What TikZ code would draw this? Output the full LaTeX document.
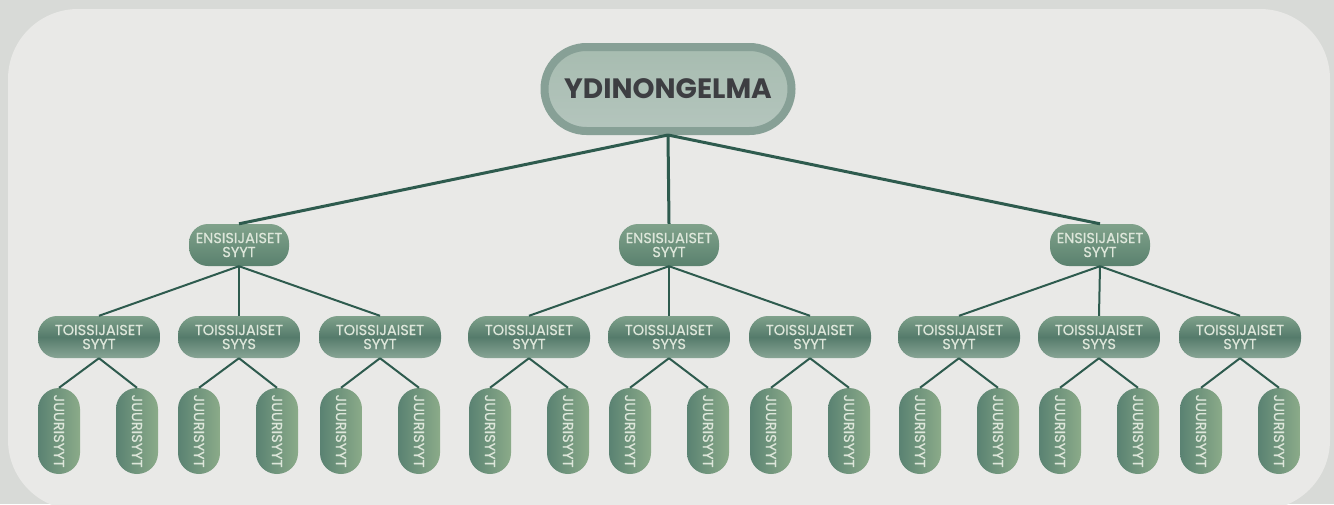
\documentclass[tikz,border=0pt]{standalone}
\usepackage{fontspec}
\setmainfont{Poppins}
\newfontfamily\medfont[FakeBold=0.6]{Poppins}
\definecolor{outerbg}{HTML}{D8DAD7}
\definecolor{panel}{HTML}{E9E9E7}
\definecolor{edgec}{HTML}{2E5B4E}
\definecolor{rootborder}{HTML}{87A096}
\definecolor{roottop}{HTML}{A7BCB0}
\definecolor{rootbot}{HTML}{B4C5BD}
\definecolor{roottext}{HTML}{3D3E42}
\definecolor{ltext}{HTML}{DDE6DA}
\definecolor{ptop}{HTML}{80A28B}
\definecolor{pbot}{HTML}{5A816E}
\definecolor{stop}{HTML}{7FA18B}
\definecolor{smid}{HTML}{557B6B}
\definecolor{sbot}{HTML}{88A595}
\definecolor{leafl}{HTML}{5A8272}
\definecolor{leafr}{HTML}{8BAB89}
\tikzset{
  rootbox/.style={draw=rootborder, line width=8pt, top color=roottop, bottom color=rootbot,
    rounded corners=42pt, minimum width=247pt, minimum height=84pt, inner sep=0pt,
    text=roottext, font=\fontsize{28}{30}\selectfont\bfseries},
  primbox/.style={top color=ptop, bottom color=pbot, rounded corners=19pt,
    minimum width=100pt, minimum height=42pt, inner sep=0pt, align=center,
    text=ltext, font=\medfont\fontsize{14.5}{14}\selectfont},
  secbox/.style={top color=stop, bottom color=sbot, middle color=smid, rounded corners=19pt,
    minimum width=122pt, minimum height=42pt, inner sep=0pt, align=center,
    text=ltext, font=\medfont\fontsize{14.5}{14}\selectfont},
  leafbox/.style={left color=leafl, right color=leafr, rounded corners=21pt,
    minimum width=42pt, minimum height=86pt, inner sep=0pt},
  leaftext/.style={rotate=-90, text=ltext, font=\medfont\fontsize{14.5}{14}\selectfont, inner sep=0pt},
  mainedge/.style={draw=edgec, line width=3pt},
  subedge/.style={draw=edgec, line width=2pt},
}
\begin{document}
\begin{tikzpicture}[x=1pt,y=-1pt]
\useasboundingbox (0,0) rectangle (1334,504);
\clip (0,0) rectangle (1334,504);
\fill[outerbg] (0,0) rectangle (1334,504);
\fill[panel, rounded corners=70pt] (8,9) rectangle (1330,510);

\node[rootbox] (root) at (668,89) {YDINONGELMA};

\foreach \i/\cx in {1/239, 2/669, 3/1100} {
  \node[primbox] (p\i) at (\cx,245) {ENSISIJAISET\\SYYT};
}
\foreach \i/\cx/\lab in {1/99/SYYT, 2/239/SYYS, 3/380/SYYT, 4/529/SYYT, 5/669/SYYS, 6/810/SYYT, 7/959/SYYT, 8/1099/SYYS, 9/1240/SYYT} {
  \node[secbox] (s\i) at (\cx,337) {TOISSIJAISET\\\lab};
}
\foreach \i/\cx in {1/59, 2/137, 3/199, 4/277, 5/341, 6/419, 7/490, 8/568, 9/630, 10/708, 11/771, 12/849, 13/920, 14/998, 15/1060, 16/1138, 17/1201, 18/1279} {
  \node[leafbox] (l\i) at (\cx,431) {};
  \node[leaftext] (lt\i) at (l\i.center) {JUURISYYT};
}

% edges
\foreach \i in {1,2,3} { \draw[mainedge] (root.south) -- (p\i.north); }
\foreach \p/\s in {1/1,1/2,1/3,2/4,2/5,2/6,3/7,3/8,3/9} { \draw[subedge] (p\p.south) -- (s\s.north); }
\foreach \s/\a/\b in {1/1/2, 2/3/4, 3/5/6, 4/7/8, 5/9/10, 6/11/12, 7/13/14, 8/15/16, 9/17/18} {
  \draw[subedge] (s\s.south) -- (l\a.north);
  \draw[subedge] (s\s.south) -- (l\b.north);
}
\end{tikzpicture}
\end{document}
